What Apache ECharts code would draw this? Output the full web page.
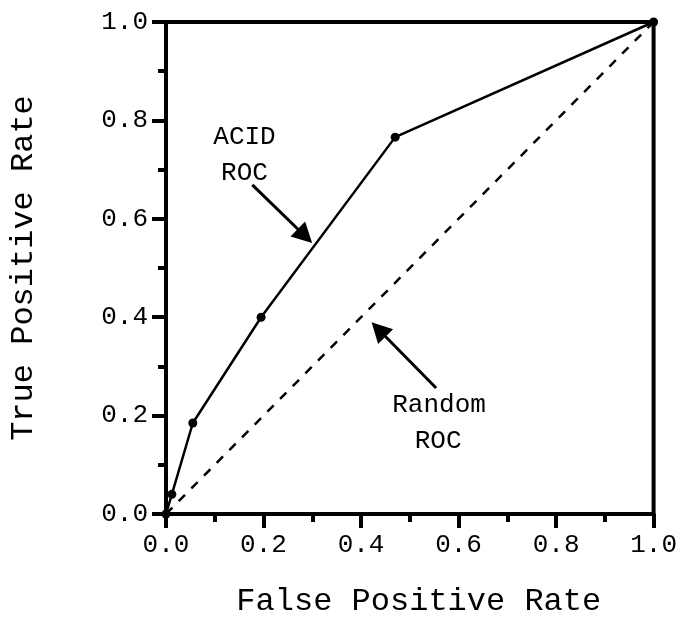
<!DOCTYPE html>
<html lang="en">
<head>
    <meta charset="UTF-8">
    <title>ROC</title>
    <script src="https://cdn.jsdelivr.net/npm/echarts@6/dist/echarts.min.js"></script>
    <style>
        html, body { margin: 0; padding: 0; background: #fff; }
        #main { width: 680px; height: 640px; }
    </style>
</head>
<body>
<div id="main"></div>
<script type="text/javascript">
    // ACID ROC curve points [fpr, tpr]
    var acidRoc = [[0, 0], [0.012, 0.04], [0.055, 0.185], [0.195, 0.40], [0.470, 0.766], [1, 1]];
    // random classifier diagonal
    var randomRoc = [[0, 0], [1, 1]];
    // text annotations [x, y, text]
    var notes = [
        [0.161, 0.766, 'ACID'],
        [0.161, 0.693, 'ROC'],
        [0.560, 0.221, 'Random'],
        [0.558, 0.148, 'ROC']
    ];
    // arrows [from, to]
    var arrows = [
        [[0.177, 0.669], [0.285, 0.565]],
        [[0.554, 0.256], [0.436, 0.375]]
    ];

    var font = 'Liberation Mono';
    var myChart = echarts.init(document.getElementById('main'));

    var axisCommon = {
        type: 'value',
        min: 0,
        max: 1,
        interval: 0.2,
        splitLine: {show: false},
        axisLine: {lineStyle: {color: '#000', width: 4}},
        axisTick: {length: 14, lineStyle: {color: '#000', width: 4}},
        minorTick: {show: true, splitNumber: 2, length: 8, lineStyle: {color: '#000', width: 4}},
        minorSplitLine: {show: false},
        axisLabel: {
            color: '#000',
            fontFamily: font,
            fontSize: 26,
            margin: 18,
            formatter: function (v) { return v.toFixed(1); }
        },
        nameLocation: 'middle',
        nameTextStyle: {color: '#000', fontFamily: font, fontSize: 32}
    };

    var option = {
        animation: false,
        grid: {
            left: 166, right: 23, top: 22, bottom: 126,
            show: true, borderColor: '#000', borderWidth: 4
        },
        xAxis: Object.assign({}, axisCommon, {
            name: 'False Positive Rate',
            nameGap: 72,
            nameTextStyle: {color: '#000', fontFamily: font, fontSize: 32, padding: [0, 0, 0, 18]}
        }),
        yAxis: Object.assign({}, axisCommon, {
            name: 'True Positive Rate',
            nameGap: 126,
            nameRotate: 90
        }),
        series: [{
            type: 'line',
            data: randomRoc,
            symbol: 'none',
            lineStyle: {color: '#000', width: 2.5, type: [9, 9]},
            z: 3
        }, {
            type: 'line',
            data: acidRoc,
            symbol: 'circle',
            symbolSize: 9,
            itemStyle: {color: '#000'},
            lineStyle: {color: '#000', width: 2.5},
            z: 4,
            markLine: {
                silent: true,
                symbol: ['none', 'triangle'],
                symbolSize: [21, 20],
                lineStyle: {color: '#000', width: 3, type: 'solid'},
                itemStyle: {color: '#000'},
                label: {show: false},
                data: arrows.map(function (a) {
                    return [{coord: a[0]}, {coord: a[1]}];
                })
            }
        }, {
            type: 'scatter',
            data: notes,
            symbolSize: 0,
            itemStyle: {color: '#000', opacity: 1},
            label: {
                show: true,
                position: 'inside',
                color: '#000',
                textBorderWidth: 0,
                fontFamily: font,
                fontSize: 26,
                formatter: function (p) { return p.data[2]; }
            },
            z: 5
        }]
    };

    myChart.setOption(option);
</script>
</body>
</html>
